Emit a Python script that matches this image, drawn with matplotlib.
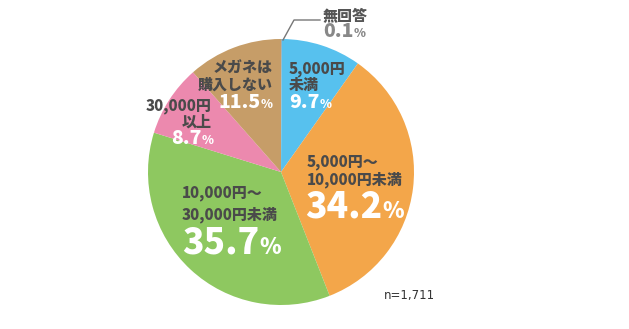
import matplotlib
matplotlib.use("Agg")
import matplotlib.pyplot as plt

labels = ["無回答", "5,000円\n未満", "5,000円～\n10,000円未満", "10,000円～\n30,000円未満", "30,000円\n以上", "メガネは\n購入しない"]
values = [0.1, 9.7, 34.2, 35.7, 8.7, 11.5]
pct_text = ["0.1", "9.7", "34.2", "35.7", "8.7", "11.5"]
colors = ["#9a9a9a", "#57C1EE", "#F3A64A", "#8EC860", "#EC89AE", "#C69D68"]
n_text = "n=1,711"

W, H = 629, 329
fig = plt.figure(figsize=(W / 100, H / 100), dpi=100)
ax = fig.add_axes([0, 0, 1, 1])

cx, cy, r = 281, H - 172, 133
ax.pie(values, colors=colors, startangle=90, counterclock=False,
       center=(cx, cy), radius=r, frame=True,
       wedgeprops=dict(linewidth=0))
ax.set_xlim(0, W)
ax.set_ylim(0, H)
ax.set_aspect("auto")
ax.axis("off")

FONT = ["Noto Sans CJK JP", "DejaVu Sans"]
DARK = "#4a4a4a"
WEIGHT = 900

def Y(yp):
    return H - yp

# leader line for 無回答
ax.plot([283, 294, 320], [Y(40), Y(20), Y(20)], color="#777777", lw=1)

fig.canvas.draw()
renderer = fig.canvas.get_renderer()

def pct(x, y, num, size, color, ha="left", gap=0):
    t = ax.text(x, Y(y), num, fontsize=size, fontweight=WEIGHT, color=color,
                family=FONT, ha="left", va="baseline")
    bb = t.get_window_extent(renderer=renderer)
    p = ax.text(bb.x1 + gap, Y(y), "%", fontsize=size * 0.62, fontweight=WEIGHT,
                color=color, family=FONT, ha="left", va="baseline")
    if ha == "right":
        pb = p.get_window_extent(renderer=renderer)
        shift = pb.x1 - x
        t.set_x(x - shift)
        p.set_x(bb.x1 + gap - shift)

def lab(x, y, s, size=10.8, color=DARK, ha="left"):
    ax.text(x, Y(y), s, fontsize=size, fontweight=WEIGHT, color=color,
            family=FONT, ha=ha, va="baseline")

# 無回答
lab(323, 20, labels[0], color="#555555")
pct(323, 37, pct_text[0], 14, "#888888")

# 5,000円未満
lab(289, 73, "5,000円")
lab(289, 90, "未満")
pct(289, 108, pct_text[1], 14, "white")

# 5,000-10,000
lab(307, 166, "5,000円～")
lab(307, 184, "10,000円未満")
pct(305, 218, pct_text[2], 25.5, "white", gap=0)

# 10,000-30,000
lab(182, 197, "10,000円～")
lab(182, 219, "30,000円未満")
pct(182, 254, pct_text[3], 25.5, "white", gap=0)

# 30,000以上
lab(212, 110, "30,000円", ha="right")
lab(212, 127, "以上", ha="right")
pct(214, 144, pct_text[4], 14, "white", ha="right")

# メガネは購入しない
lab(273, 73, "メガネは", ha="right")
lab(273, 90, "購入しない", ha="right")
pct(273, 108, pct_text[5], 14, "white", ha="right")

ax.text(384, Y(299), n_text, fontsize=8.5, color="#333333",
        family=["DejaVu Sans"], ha="left", va="baseline")

fig.savefig("out.png", dpi=100)
